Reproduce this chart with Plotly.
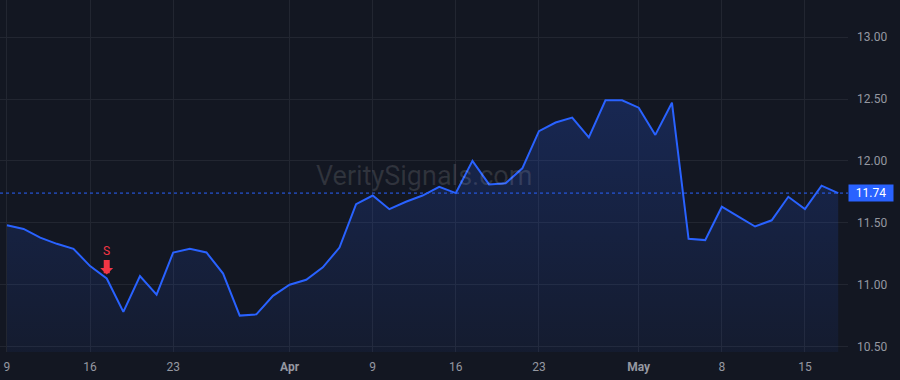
import plotly.graph_objects as go

# ---- data ----
dates = [
    "2026-03-09", "2026-03-10", "2026-03-11", "2026-03-12", "2026-03-13",
    "2026-03-16", "2026-03-17", "2026-03-18", "2026-03-19", "2026-03-20",
    "2026-03-23", "2026-03-24", "2026-03-25", "2026-03-26", "2026-03-27",
    "2026-03-30", "2026-03-31",
    "2026-04-01", "2026-04-02",
    "2026-04-06", "2026-04-07", "2026-04-08", "2026-04-09", "2026-04-10",
    "2026-04-13", "2026-04-14", "2026-04-15", "2026-04-16", "2026-04-17",
    "2026-04-20", "2026-04-21", "2026-04-22", "2026-04-23", "2026-04-24",
    "2026-04-27", "2026-04-28", "2026-04-29", "2026-04-30",
    "2026-05-01",
    "2026-05-04", "2026-05-05", "2026-05-06", "2026-05-07", "2026-05-08",
    "2026-05-11", "2026-05-12", "2026-05-13", "2026-05-14", "2026-05-15",
    "2026-05-18", "2026-05-19",
]
close = [
    11.48, 11.45, 11.38, 11.33, 11.29,
    11.15, 11.05, 10.78, 11.07, 10.92,
    11.26, 11.29, 11.26, 11.09, 10.75,
    10.76, 10.91,
    11.00, 11.04,
    11.14, 11.30, 11.65, 11.72, 11.61,
    11.67, 11.72, 11.79, 11.74, 12.00,
    11.81, 11.82, 11.94, 12.24, 12.31,
    12.35, 12.19, 12.49, 12.49,
    12.43,
    12.21, 12.47, 11.37, 11.36, 11.63,
    11.55, 11.47, 11.52, 11.71, 11.61,
    11.80, 11.74,
]
x_tick_dates = ["2026-03-09", "2026-03-16", "2026-03-23", "2026-04-01", "2026-04-09",
                "2026-04-16", "2026-04-23", "2026-05-01", "2026-05-08", "2026-05-15"]
x_tick_labels = ["9", "16", "23", "<b>Apr</b>", "9", "16", "23", "<b>May</b>", "8", "15"]
y_ticks = [10.5, 11.0, 11.5, 12.0, 12.5, 13.0]
signal_date = "2026-03-17"
signal_label = "S"
watermark = "VeritySignals.com"

BG = "#131722"
GRID = "#222631"
LINE = "#2962ff"
TEXT = "#9598a1"
RED = "#f23645"
FONT = "Roboto"

fig = go.Figure()
fig.add_trace(go.Scatter(
    x=dates, y=close, mode="lines",
    line=dict(color=LINE, width=2),
    fill="tozeroy",
    fillgradient=dict(
        type="vertical",
        start=10.45, stop=12.5,
        colorscale=[[0, "rgba(41,98,255,0.06)"], [1, "rgba(41,98,255,0.22)"]],
    ),
    hoverinfo="skip",
    showlegend=False,
))

last_val = close[-1]
# dotted last-price line
fig.add_shape(type="line", xref="paper", x0=0, x1=1, yref="y", y0=last_val, y1=last_val,
              line=dict(color=LINE, width=1, dash="dot"), layer="above")

# last-price label
fig.add_annotation(xref="paper", x=1, yref="y", y=last_val, text=f"{last_val:.2f}",
                   showarrow=False, xanchor="left", yanchor="middle",
                   bgcolor=LINE, font=dict(color="#ffffff", size=12, family=FONT),
                   width=42, height=14, borderpad=1, align="center")

# sell signal
sig_val = close[dates.index(signal_date)]
fig.add_annotation(x=signal_date, y=sig_val, text=signal_label,
                   font=dict(color=RED, size=12, family=FONT),
                   showarrow=True, arrowhead=1, arrowsize=0.36, arrowwidth=6,
                   arrowcolor=RED, ax=0, ay=-27, standoff=4)

# watermark
fig.add_annotation(xref="paper", yref="paper", x=0.5, y=0.5, text=watermark,
                   showarrow=False, font=dict(color="rgba(255,255,255,0.12)", size=27, family=FONT))

fig.update_layout(
    width=900, height=380,
    margin=dict(l=0, r=52, t=0, b=28),
    paper_bgcolor=BG, plot_bgcolor=BG,
    font=dict(family=FONT, size=12, color=TEXT),
    xaxis=dict(
        type="category", range=[-0.42, 50.59],
        tickmode="array", tickvals=x_tick_dates, ticktext=x_tick_labels,
        showgrid=True, gridcolor=GRID, gridwidth=1,
        zeroline=False, showline=False, ticks="", ticklabelstandoff=6,
        tickfont=dict(color=TEXT, size=12, family=FONT),
    ),
    yaxis=dict(
        side="right", range=[10.456, 13.30],
        tickmode="array", tickvals=y_ticks, ticktext=[f"{v:.2f}" for v in y_ticks],
        showgrid=True, gridcolor=GRID, gridwidth=1,
        zeroline=False, showline=False, ticks="", ticklabelstandoff=8,
        tickfont=dict(color=TEXT, size=12, family=FONT),
    ),
)

fig.write_html("out.html")
